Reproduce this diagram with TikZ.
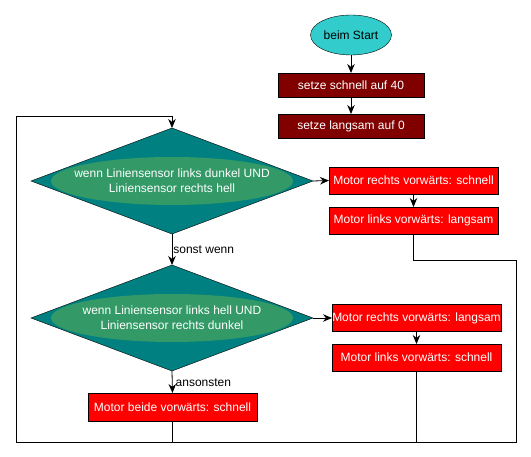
\documentclass[tikz,border=0pt]{standalone}
\usepackage{fontspec}
\setmainfont{Liberation Sans}
\usetikzlibrary{arrows.meta,shapes.geometric}
\definecolor{FlowCyan}{HTML}{33CCCC}
\definecolor{FlowMaroon}{HTML}{800000}
\definecolor{FlowRed}{HTML}{FF0000}
\definecolor{FlowTeal}{HTML}{008080}
\definecolor{FlowGreen}{HTML}{339966}
\tikzset{
  flowtext/.style={font=\fontsize{12}{15}\selectfont},
  setbox/.style={flowtext,draw=black,fill=FlowMaroon,text=white,
    minimum width=146pt,minimum height=24pt,inner sep=0pt,outer sep=0pt},
  motorbox/.style={flowtext,draw=black,fill=FlowRed,text=white,
    minimum width=169pt,minimum height=27pt,inner sep=0pt,outer sep=0pt},
  choice/.style={diamond,draw=black,fill=FlowTeal,minimum width=282pt,
    minimum height=106pt,inner sep=0pt,outer sep=0pt},
  choicebg/.style={ellipse,fill=FlowGreen,minimum width=242pt,
    minimum height=48pt,inner sep=0pt},
  choicetext/.style={flowtext,text=white,align=center,inner sep=0pt},
  flowarrow/.style={-{Stealth[length=9pt,width=7.5pt]},line width=0.8pt},
  flowline/.style={line width=0.8pt},
}
\begin{document}
\begin{tikzpicture}[x=1pt,y=-1pt]
        \useasboundingbox (0,0) rectangle (531,457);

        % start and setup
        \node[ellipse,draw=black,fill=FlowCyan,flowtext,minimum width=81pt,
          minimum height=40pt,inner sep=0pt,outer sep=0pt]
          (start) at (351,35) {beim Start};
        \node[setbox] (fast) at (351,85) {setze schnell auf 40};
        \node[setbox] (slow) at (351,126) {setze langsam auf 0};

        % first decision
        \node[choice] (ask1) at (172,181) {};
        \node[choicebg] (ask1bg) at (ask1.center) {};
        \node[choicetext] (ask1text) at (ask1.center)
          {wenn Liniensensor links dunkel UND\\Liniensensor rechts hell};
        \node[motorbox] (right1) at (413.5,180.5) {Motor rechts vorwärts: schnell};
        \node[motorbox] (left1) at (413.5,220.5) {Motor links vorwärts: langsam};

        % second decision
        \node[choice] (ask2) at (172,318) {};
        \node[choicebg] (ask2bg) at (ask2.center) {};
        \node[choicetext] (ask2text) at (ask2.center)
          {wenn Liniensensor links hell UND\\Liniensensor rechts dunkel};
        \node[motorbox] (right2) at (416.5,318) {Motor rechts vorwärts: langsam};
        \node[motorbox] (left2) at (416.5,357.5) {Motor links vorwärts: schnell};

        \node[motorbox,minimum height=28pt] (both) at (172.5,407)
          {Motor beide vorwärts: schnell};

        % loop corners
        \coordinate (loopTL) at (16,116);
        \coordinate (loopBL) at (16,442);
        \coordinate (loopBR) at (516,442);
        \coordinate (jog) at (516,260);

        \draw[flowarrow] (start) -- (fast);
        \draw[flowarrow] (fast) -- (slow);
        \draw[flowarrow] (ask1.east) -- (right1.west);
        \draw[flowarrow] (right1) -- (left1);
        \draw[flowarrow] (ask2.east) -- (right2.west);
        \draw[flowarrow] (right2) -- (left2);

        \draw[flowarrow] (ask1.south) -- (ask2.north)
          node[pos=0.5,anchor=west,flowtext,inner sep=1pt] {sonst wenn};
        \draw[flowarrow] (ask2.south) -- (both.north)
          node[pos=0.55,anchor=west,flowtext,inner sep=1pt,xshift=2pt] {ansonsten};

        \draw[flowline] (left1.south) -- (left1.south |- jog) -- (jog)
          -- (loopBR) -- (loopBL);
        \draw[flowline] (left2.south) -- (left2.south |- loopBL);
        \draw[flowarrow] (both.south) -- (both.south |- loopBL) -- (loopBL)
          -- (loopTL) -- (ask1.north |- loopTL) -- (ask1.north);
\end{tikzpicture}
\end{document}
